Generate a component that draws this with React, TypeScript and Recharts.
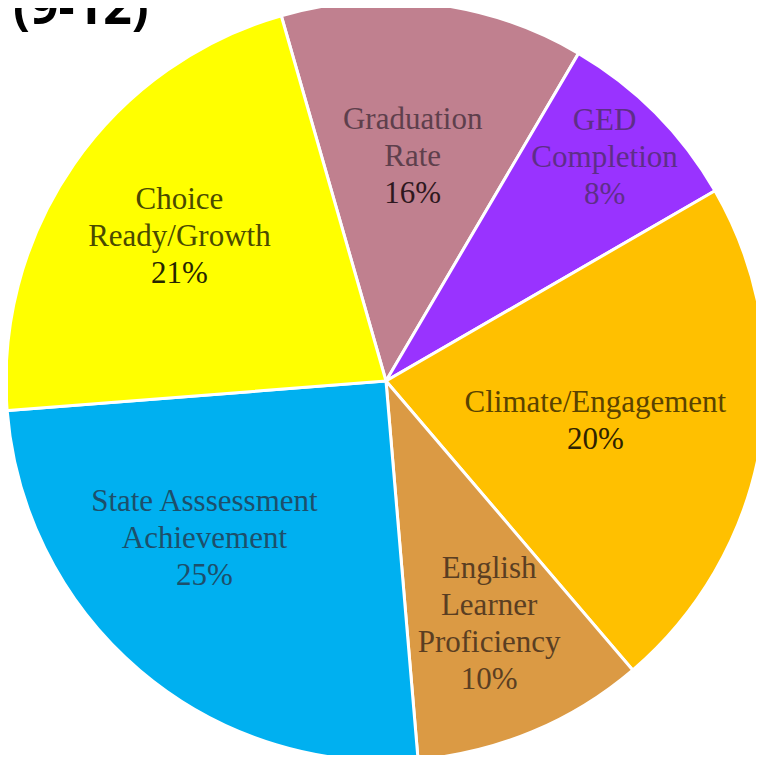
import React from "react"
import { PieChart, Pie, Cell } from "recharts"

// slice order runs clockwise from the top-left boundary
const categories = [
  ["Graduation", "Rate"],
  ["GED", "Completion"],
  ["Climate/Engagement"],
  ["English", "Learner", "Proficiency"],
  ["State Asssessment", "Achievement"],
  ["Choice", "Ready/Growth"],
]
// shares as drawn (degrees of arc / 3.6)
const sliceValues = [12.9, 8.2, 22.1, 9.9, 25.1, 21.8]
// percentages as printed on the slices
const percentLabels = ["16%", "8%", "20%", "10%", "25%", "21%"]

const COLORS = ["#C0808F", "#9933FF", "#FFC000", "#DB9A44", "#00B0F0", "#FFFF00"]
const NAME_COLORS = ["#5E3F4C", "#5E2E88", "#5A4300", "#5A3E22", "#1D4F6B", "#4A4A00"]
const PCT_COLORS = ["#2E1820", "#5E2E88", "#2E2200", "#5A3E22", "#1D4F6B", "#262600"]
// label placement: fraction of radius and angle tweak (degrees)
const LABEL_R = [0.6, 0.825, 0.56, 0.69, 0.63, 0.665]
const LABEL_DA = [0.5, 1.0, -0.6, 0.5, -9, -0.4]

const RADIAN = Math.PI / 180
const LINE_H = 37
const SERIF = "'Liberation Serif', 'Times New Roman', 'DejaVu Serif', serif"

const data = categories.map((lines, i) => ({
  name: lines.join(" "),
  value: sliceValues[i],
}))

function renderLabel(props: any) {
  const { cx, cy, midAngle, outerRadius, index } = props
  const r = outerRadius * LABEL_R[index]
  const a = (midAngle + LABEL_DA[index]) * RADIAN
  const x = cx + r * Math.cos(a)
  const y = cy - r * Math.sin(a)
  const lines = [...categories[index], percentLabels[index]]
  const top = y - ((lines.length - 1) * LINE_H) / 2
  return (
    <text
      key={`lbl-${index}`}
      x={x}
      y={top}
      textAnchor="middle"
      dominantBaseline="central"
      style={{ fontFamily: SERIF, fontSize: 31 }}
    >
      {lines.map((line, i) => (
        <tspan
          key={i}
          x={x}
          y={top + i * LINE_H}
          fill={i === lines.length - 1 ? PCT_COLORS[index] : NAME_COLORS[index]}
        >
          {line}
        </tspan>
      ))}
    </text>
  )
}

export default function App() {
  return (
    <div style={{ margin: -8, position: "relative", width: 764, height: 763, background: "#fff", overflow: "hidden" }}>
      <PieChart width={764} height={763} margin={{ top: 0, right: 0, bottom: 0, left: 0 }}>
        <Pie
          data={data}
          dataKey="value"
          cx={386}
          cy={381}
          outerRadius={380}
          startAngle={106}
          endAngle={-254}
          stroke="#fff"
          strokeWidth={3}
          labelLine={false}
          label={renderLabel}
          isAnimationActive={false}
        >
          {data.map((entry, index) => (
            <Cell key={`cell-${index}`} fill={COLORS[index]} />
          ))}
        </Pie>
      </PieChart>
      <div
        style={{
          position: "absolute",
          left: 13,
          top: -27,
          fontFamily: "'Open Sans', sans-serif",
          fontWeight: 700,
          fontSize: 50,
          lineHeight: "64px",
          color: "#000",
        }}
      >
        (9-12)
      </div>
    </div>
  )
}
